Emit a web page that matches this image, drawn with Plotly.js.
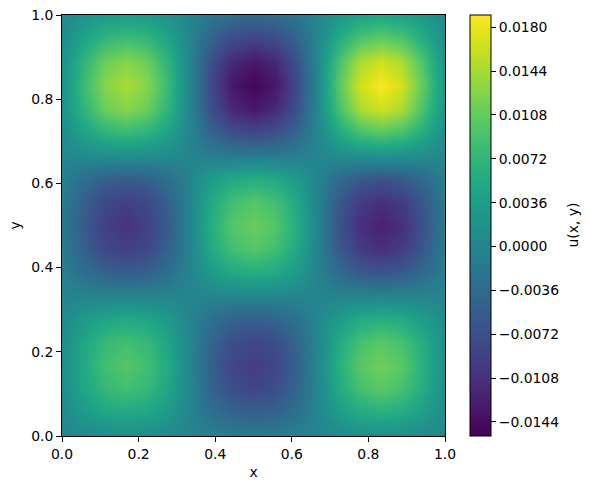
<!DOCTYPE html>
<html>
<head>
<meta charset="utf-8">
<script src="https://cdn.plot.ly/plotly-3.0.1.min.js"></script>
<style>html,body{margin:0;padding:0;background:#fff}</style>
</head>
<body>
<div id="chart" style="width:589px;height:489px"></div>
<script>
var gridX = [0,0.0556,0.1111,0.1667,0.2222,0.2778,0.3333,0.3889,0.4444,0.5,0.5556,0.6111,0.6667,0.7222,0.7778,0.8333,0.8889,0.9444,1];
var gridY = [0,0.0556,0.1111,0.1667,0.2222,0.2778,0.3333,0.3889,0.4444,0.5,0.5556,0.6111,0.6667,0.7222,0.7778,0.8333,0.8889,0.9444,1];
// u(x, y), in units of 1e-5, bottom row first
var uRows = [
[14,63,102,116,102,63,0,-62,-100,-114,-100,-62,2,74,120,137,120,74,16],
[63,283,461,524,461,283,1,-277,-451,-513,-451,-277,10,333,542,616,542,333,74],
[102,461,752,854,752,461,2,-451,-736,-836,-736,-451,17,542,883,1003,883,542,121],
[116,524,854,970,854,524,2,-513,-836,-950,-836,-513,19,616,1003,1140,1003,616,137],
[102,461,752,854,752,461,2,-451,-736,-836,-736,-451,17,542,883,1003,883,542,121],
[63,283,461,524,461,283,1,-277,-451,-513,-451,-277,10,333,542,616,542,333,74],
[-1,-4,-6,-7,-6,-4,1,9,14,16,14,9,1,-5,-9,-10,-9,-5,-1],
[-68,-303,-494,-562,-494,-303,4,323,528,599,528,323,-7,-362,-589,-670,-589,-362,-80],
[-110,-495,-805,-915,-805,-495,6,527,860,977,860,527,-11,-590,-960,-1091,-960,-590,-131],
[-125,-562,-915,-1040,-915,-562,7,599,977,1110,977,599,-13,-670,-1091,-1240,-1091,-670,-149],
[-110,-495,-805,-915,-805,-495,6,527,860,977,860,527,-11,-590,-960,-1091,-960,-590,-131],
[-68,-303,-494,-562,-494,-303,4,323,528,599,528,323,-7,-362,-589,-670,-589,-362,-80],
[20,89,145,166,145,89,-1,-93,-152,-172,-152,-93,4,118,193,220,193,118,27],
[94,423,689,783,689,423,-4,-443,-723,-821,-723,-443,19,548,893,1015,893,548,122],
[153,689,1123,1276,1123,689,-6,-722,-1177,-1338,-1177,-722,32,893,1456,1654,1456,893,199],
[174,783,1276,1450,1276,783,-7,-821,-1338,-1520,-1338,-821,36,1015,1654,1880,1654,1015,226],
[153,689,1123,1276,1123,689,-6,-722,-1177,-1338,-1177,-722,32,893,1456,1654,1456,893,199],
[97,438,715,812,715,438,-4,-460,-749,-851,-749,-460,20,568,926,1053,926,568,127],
[44,196,319,363,319,196,-2,-205,-335,-380,-335,-205,9,254,414,470,414,254,57]
];
var colorMin = -0.01555, colorMax = 0.019;
var barTicks = [-0.0144,-0.0108,-0.0072,-0.0036,0,0.0036,0.0072,0.0108,0.0144,0.018];
var barLabels = ['\u22120.0144','\u22120.0108','\u22120.0072','\u22120.0036','0.0000','0.0036','0.0072','0.0108','0.0144','0.0180'];
var axisTicks = [0,0.2,0.4,0.6,0.8,1];
var axisLabels = ['0.0','0.2','0.4','0.6','0.8','1.0'];

var font = {family:'"DejaVu Sans", sans-serif', size:13.9, color:'#000'};
function axis(title, standoff){
  return {
    range:[0,1], tickmode:'array', tickvals:axisTicks, ticktext:axisLabels,
    ticks:'outside', ticklen:5, tickwidth:1, tickcolor:'#000',
    showline:true, mirror:true, linecolor:'#000', linewidth:1,
    showgrid:false, zeroline:false, tickfont:font,
    title:{text:title, font:font, standoff:standoff}
  };
}
var trace = {
  type:'heatmap', x:gridX, y:gridY,
  z:uRows.map(function(r){return r.map(function(v){return v*1e-5;});}),
  zmin:colorMin, zmax:colorMax, zsmooth:'best', colorscale:'Viridis',
  colorbar:{
    x:1.064, xanchor:'left', xpad:0, ypad:0, y:0.5, yanchor:'middle',
    thickness:21, thicknessmode:'pixels', len:1, lenmode:'fraction',
    outlinewidth:1, outlinecolor:'#000', tickmode:'array', tickvals:barTicks, ticktext:barLabels,
    ticks:'outside', ticklen:5, tickwidth:1, tickcolor:'#000', tickfont:font
  }
};
var layout = {
  width:589, height:489, autosize:false,
  margin:{l:62, r:144, t:15, b:53},
  paper_bgcolor:'#fff', plot_bgcolor:'#fff',
  xaxis:axis('x', 6), yaxis:axis('y', 7),
  annotations:[{
    text:'u(x, y)', xref:'paper', yref:'paper', x:1.3316, y:0.5,
    xanchor:'center', yanchor:'middle', textangle:-90, showarrow:false, font:font
  }]
};
Plotly.newPlot('chart',[trace],layout,{displayModeBar:false,staticPlot:true});
</script>
</body>
</html>
